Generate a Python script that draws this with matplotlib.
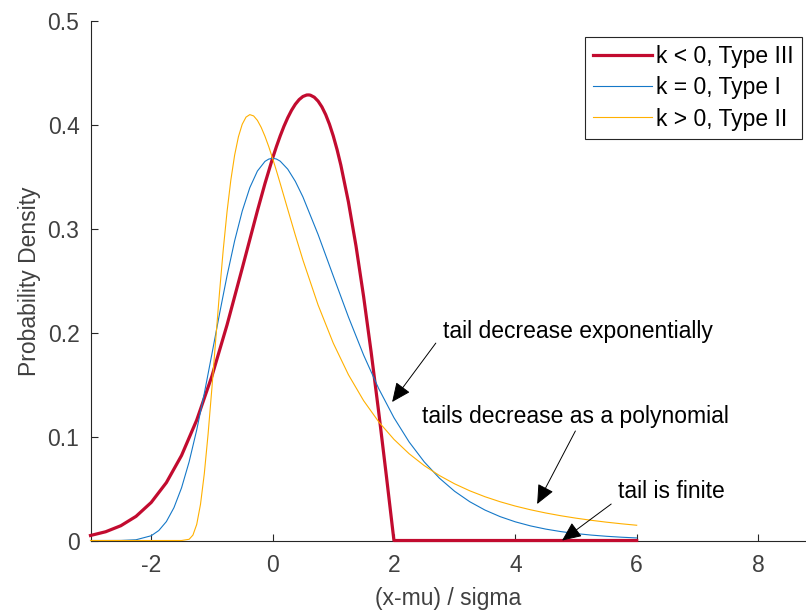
import numpy as np
import matplotlib
matplotlib.use('Agg')
import matplotlib.pyplot as plt

# GEV densities for the three shape regimes, sampled along (x-mu)/sigma
x_type3 = [-3, -2.75, -2.5, -2.25, -2, -1.75, -1.5, -1.25, -1, -0.75, -0.5, -0.25, -0.125,
           0, 0.0625, 0.125, 0.1875, 0.25, 0.3125, 0.375, 0.4375, 0.5, 0.5625, 0.6, 0.625,
           0.6875, 0.75, 0.8125, 0.875, 0.9375, 1, 1.0625, 1.125, 1.25, 1.375,
           1.5, 1.625, 1.75, 1.875, 2, 6]
y_type3 = [0.00483, 0.00843, 0.01424, 0.02324, 0.03663, 0.05573, 0.08185, 0.11590, 0.15810,
           0.20758, 0.26201, 0.31730, 0.34362, 0.36788, 0.37898, 0.38928, 0.39865, 0.40691,
           0.41404, 0.41989, 0.42434, 0.42734, 0.42878, 0.42884, 0.42855, 0.42663, 0.42289,
           0.41735, 0.40993, 0.40061, 0.38940, 0.37629, 0.36128, 0.32580, 0.28343, 0.23485,
           0.18102, 0.12306, 0.06226, 0.0, 0.0]

x_type1 = [-3, -2.75, -2.5, -2.25, -2, -1.875, -1.75, -1.625, -1.5, -1.375, -1.25, -1.125,
           -1, -0.875, -0.75, -0.625, -0.5, -0.375, -0.25, -0.125, -0.0625, 0, 0.0625, 0.125,
           0.25, 0.375, 0.5, 0.75, 1, 1.25, 1.5, 1.75, 2, 2.25, 2.5, 2.75, 3, 3.25, 3.5,
           3.75, 4, 4.25, 4.5, 4.75, 5, 5.25, 5.5, 5.75, 6]
y_type1 = [0.0, 0.0000025, 0.0000625, 0.000718, 0.00457, 0.00960, 0.01821, 0.03163, 0.05068,
           0.07574, 0.10643, 0.14153, 0.17938, 0.21789, 0.25489, 0.28847, 0.31704, 0.33960,
           0.35557, 0.36488, 0.36711, 0.36788, 0.36719, 0.36514, 0.35741, 0.34566, 0.33070,
           0.29454, 0.25465, 0.21513, 0.17851, 0.14605, 0.11821, 0.09486, 0.07562, 0.05997,
           0.04737, 0.03730, 0.02930, 0.02297, 0.01798, 0.01406, 0.01099, 0.00858, 0.00669,
           0.00522, 0.00407, 0.00317, 0.00247]

x_type2 = [-3, -2, -1.5, -1.375, -1.3125, -1.25, -1.1875, -1.125, -1.0625, -1, -0.9375,
           -0.875, -0.8125, -0.75, -0.6875, -0.625, -0.5625, -0.5, -0.4375, -0.375, -0.3125,
           -0.25, -0.1875, -0.125, -0.0625, 0, 0.0625, 0.125, 0.25, 0.375, 0.5, 0.75, 1,
           1.25, 1.5, 1.75, 2, 2.25, 2.5, 2.75, 3, 3.25, 3.5, 3.75, 4, 4.25, 4.5, 4.75, 5,
           5.25, 5.5, 5.75, 6]
y_type2 = [0.0, 0.0, 0.0000072, 0.00117, 0.0052, 0.01547, 0.03486, 0.06428, 0.10249, 0.14653,
           0.19284, 0.23829, 0.28008, 0.31664, 0.34701, 0.37095, 0.38862, 0.40062, 0.40750,
           0.40989, 0.40865, 0.40436, 0.39761, 0.38901, 0.37899, 0.36788, 0.35607, 0.34380,
           0.31872, 0.29386, 0.26997, 0.22667, 0.18998, 0.15958, 0.13461, 0.11415, 0.09735,
           0.08351, 0.07206, 0.06252, 0.05454, 0.04782, 0.04213, 0.03729, 0.03314, 0.02958,
           0.02650, 0.02383, 0.02150, 0.01946, 0.01766, 0.01608, 0.01468]

series_labels = ['k < 0, Type III', 'k = 0, Type I', 'k > 0, Type II']
x_ticks = [-2, 0, 2, 4, 6, 8]
y_ticks = [0, 0.1, 0.2, 0.3, 0.4, 0.5]
y_tick_labels = ['0', '0.1', '0.2', '0.3', '0.4', '0.5']

notes = ['tail decrease exponentially', 'tails decrease as a polynomial', 'tail is finite']
note_text_xy = [(2.81, 0.1952), (2.46, 0.1128), (5.69, 0.0406)]
note_tail_xy = [(2.69, 0.190), (4.99, 0.1054), (5.58, 0.0351)]
note_head_xy = [(1.97, 0.1333), (4.36, 0.0351), (4.77, 0.0)]

plt.rcParams['font.family'] = ['Liberation Sans', 'DejaVu Sans']
plt.rcParams['axes.unicode_minus'] = False
fs = 16.5
axis_grey = '#404040'

fig = plt.figure(figsize=(8.06, 6.14), dpi=100)
ax = fig.add_axes([0.1123, 0.1197, 1.0 - 0.1123, 0.8461])

ax.plot(x_type3, y_type3, color='#C20B2F', lw=2.3, label=series_labels[0], clip_on=False, zorder=3)
ax.plot(x_type1, y_type1, color='#1578C8', lw=0.8, label=series_labels[1], clip_on=False, zorder=4)
ax.plot(x_type2, y_type2, color='#FFB000', lw=0.8, label=series_labels[2], clip_on=False, zorder=4)

ax.set_xlim(-3, 8.79)
ax.set_ylim(0, 0.5)
ax.set_xticks(x_ticks)
ax.set_yticks(y_ticks)
ax.set_yticklabels(y_tick_labels)
ax.tick_params(direction='in', length=5, width=0.8, labelsize=fs, labelcolor=axis_grey,
               color='#262626')
ax.tick_params(axis='x', pad=10)
ax.tick_params(axis='y', pad=8)
for side in ['top', 'right']:
    ax.spines[side].set_visible(False)
for side in ['left', 'bottom']:
    ax.spines[side].set_color('#262626')
    ax.spines[side].set_linewidth(0.8)

ax.set_xlabel('(x-mu) / sigma', fontsize=fs, color=axis_grey, labelpad=7)
ax.set_ylabel('Probability Density', fontsize=fs, color=axis_grey, labelpad=5)

for txt, txy, tail, head in zip(notes, note_text_xy, note_tail_xy, note_head_xy):
    ax.text(txy[0], txy[1], txt, fontsize=fs, color='black', ha='left', va='baseline')
    ax.annotate('', xy=head, xytext=tail,
                arrowprops=dict(arrowstyle='-|>,head_length=0.85,head_width=0.38',
                                mutation_scale=14, lw=0.7, color='black',
                                shrinkA=0, shrinkB=0),
                annotation_clip=False, zorder=6)

leg = ax.legend(loc='upper right', bbox_to_anchor=(802 / 806, 1 - 37 / 614),
                bbox_transform=fig.transFigure, borderaxespad=0, fontsize=fs,
                handlelength=2.55, handletextpad=0.2, labelspacing=0.36,
                borderpad=0.35, fancybox=False, framealpha=1)
leg.get_frame().set_edgecolor('#262626')
leg.get_frame().set_linewidth(0.8)

fig.savefig('out.png', dpi=100)
